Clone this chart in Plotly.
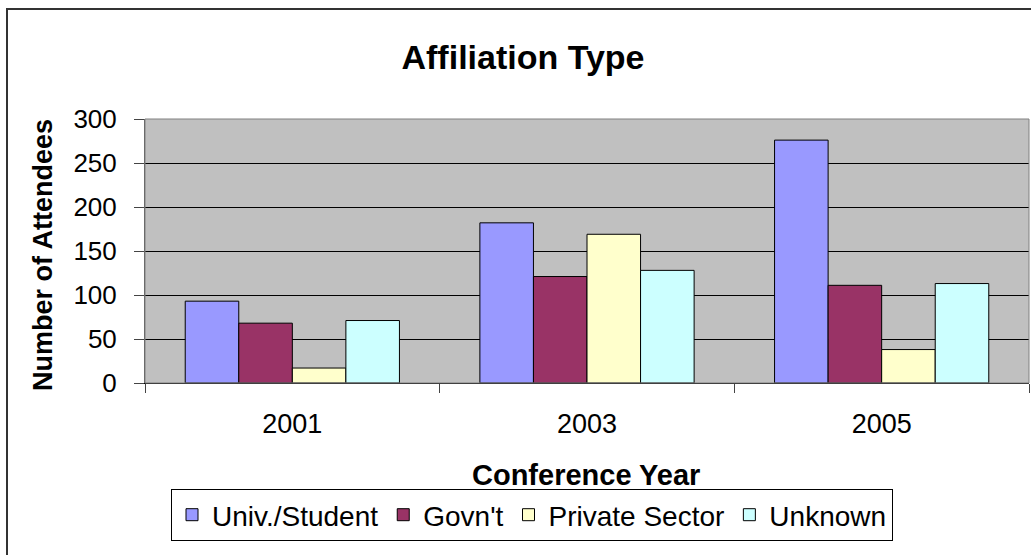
import plotly.graph_objects as go

years = ["2001", "2003", "2005"]
univ = [93, 182, 276]
govt = [68, 121, 111]
private = [17, 169, 38]
unknown = [71, 128, 113]
series_names = ["Univ./Student", "Govn't", "Private Sector", "Unknown"]
colors = ["#9999FF", "#993366", "#FFFFCC", "#CCFFFF"]
y_ticks = [0, 50, 100, 150, 200, 250, 300]

FONT = "Liberation Sans, Arial, sans-serif"

W, H = 1031, 555
L, R, T, B = 145, 2, 119, 172
pw = W - L - R
ph = H - T - B

def px_x(x):
    return (x - L) / pw

def px_y(y):
    return (H - B - y) / ph

fig = go.Figure()
for name, vals, col in zip(series_names, [univ, govt, private, unknown], colors):
    fig.add_trace(go.Bar(
        x=years, y=vals, name=name,
        marker=dict(color=col, line=dict(color="black", width=1)),
    ))

fig.update_layout(
    width=W, height=H,
    margin=dict(l=L, r=R, t=T, b=B),
    paper_bgcolor="white",
    plot_bgcolor="#C0C0C0",
    barmode="group",
    bargap=0.273,
    bargroupgap=0,
    font=dict(family=FONT, color="black", size=26),
    title=dict(
        text="<b>Affiliation Type</b>",
        x=523 / W, xref="container", xanchor="center",
        y=1 - 57 / H, yref="container", yanchor="middle",
        font=dict(family=FONT, size=34, color="black"),
    ),
    showlegend=True,
    legend=dict(
        orientation="h",
        x=px_x(532), y=px_y(515), xanchor="center", yanchor="middle",
        bordercolor="black", borderwidth=1, bgcolor="white",
        font=dict(family=FONT, size=28, color="black"),
        itemwidth=30, tracegroupgap=0,
        traceorder="normal",
    ),
    xaxis=dict(
        type="category",
        showgrid=False,
        showline=True, linecolor="black", linewidth=1,
        ticks="outside", tickson="boundaries", ticklen=9, tickcolor="#444444",
        tickfont=dict(family=FONT, size=27, color="black"),
        ticklabelstandoff=17,
        mirror=False,
    ),
    yaxis=dict(
        range=[0, 300],
        tickvals=y_ticks,
        showgrid=True, gridcolor="black", gridwidth=1,
        showline=True, linecolor="#555555", linewidth=1,
        ticks="outside", ticklen=10, tickcolor="#444444",
        tickfont=dict(family=FONT, size=26, color="black"),
        ticklabelstandoff=12,
        zeroline=False,
    ),
    annotations=[
        dict(text="<b>Conference Year</b>", x=px_x(586), y=px_y(475),
             xref="paper", yref="paper", showarrow=False,
             xanchor="center", yanchor="middle",
             font=dict(family=FONT, size=29, color="black")),
        dict(text="<b>Number of Attendees</b>", x=px_x(43), y=px_y(255),
             xref="paper", yref="paper", showarrow=False, textangle=-90,
             xanchor="center", yanchor="middle",
             font=dict(family=FONT, size=27, color="black")),
    ],
    shapes=[
        dict(type="rect", xref="paper", yref="paper",
             x0=px_x(7), x1=px_x(1040), y0=px_y(558), y1=px_y(9),
             line=dict(color="#333333", width=2), fillcolor="rgba(0,0,0,0)",
             layer="below"),
        dict(type="rect", xref="paper", yref="paper",
             x0=0, x1=1, y0=0, y1=1,
             line=dict(color="#808080", width=1), fillcolor="rgba(0,0,0,0)",
             layer="above"),
    ],
)

fig.write_html("out.html", config={"displayModeBar": False},
               post_script="document.body.style.margin='0';")
